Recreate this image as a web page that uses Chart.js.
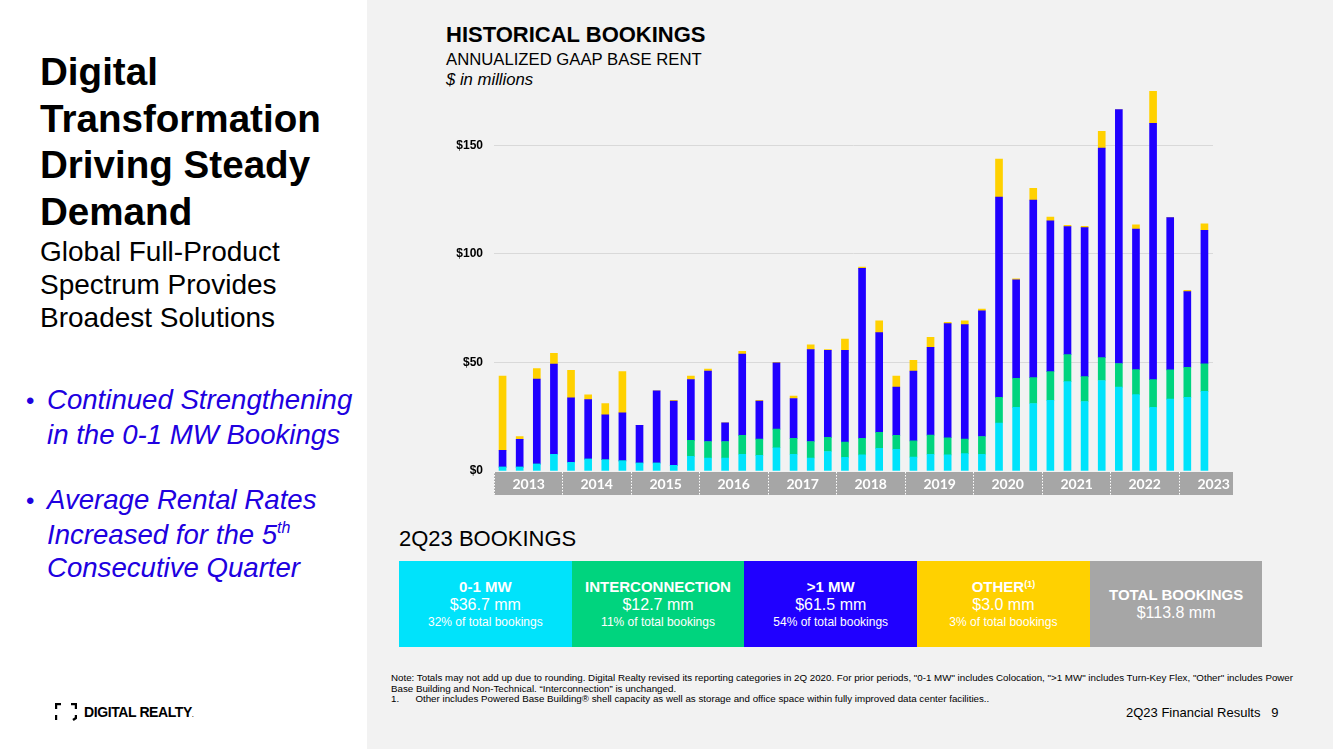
<!DOCTYPE html>
<html>
<head>
<meta charset="UTF-8">
<title>Historical Bookings</title>
<script src="https://cdn.jsdelivr.net/npm/chart.js@4.4.0/dist/chart.umd.min.js"></script>
<style>
    body { margin: 0; width: 1333px; height: 749px; position: relative; overflow: hidden; background: #fff; font-family: "Liberation Sans", Arial, sans-serif; color: #000; }
    #right { position: absolute; left: 367px; top: 0; width: 966px; height: 749px; background: #f2f2f2; }
    .abs { position: absolute; white-space: nowrap; }
    #title { left: 40px; top: 49.3px; font-size: 38.6px; line-height: 46.5px; font-weight: bold; }
    #subtitle { left: 40px; top: 234.5px; font-size: 28px; line-height: 33px; }
    .bullet { left: 26px; font-size: 27.6px; line-height: 33.7px; font-style: italic; color: #2000e0; }
    .bullet span.b { display: inline-block; width: 21px; font-style: normal; font-size: 24px; }
    .bullet .ind { padding-left: 21px; }
    .bullet sup { font-size: 16px; line-height: 0; vertical-align: 11px; }
    #logo { left: 55px; top: 703px; font-size: 14px; font-weight: bold; letter-spacing: -0.4px; }
    #chartTitle { left: 446px; top: 23px; font-size: 22px; font-weight: bold; line-height: 24px; }
    #chartSub { left: 446px; top: 49.7px; font-size: 16.7px; line-height: 19px; }
    #chartUnit { left: 446px; top: 69.7px; font-size: 16.7px; line-height: 19px; font-style: italic; }
    #bookTitle { left: 399px; top: 526px; font-size: 22px; line-height: 26px; }
    #boxes { position: absolute; left: 399px; top: 561px; height: 86px; display: flex; }
    .box { width: 172.7px; height: 86px; display: flex; flex-direction: column; justify-content: center; align-items: center; color: #fff; text-align: center; }
    .box .t { font-size: 15px; font-weight: bold; line-height: 18px; }
    .box .t sup { font-size: 9px; vertical-align: 5px; line-height: 0; }
    .box .v { font-size: 16px; line-height: 18px; }
    .box .s { font-size: 12px; line-height: 16px; }
    #note { left: 391px; top: 673px; font-family: "Liberation Sans Narrow", "Arial Narrow", sans-serif; font-size: 9.75px; line-height: 10.5px; }
    #footer { left: 1126px; top: 705px; font-size: 13px; }
    canvas { position: absolute; left: 380px; top: 62px; }
</style>
</head>
<body>
<div id="right"></div>

<div class="abs" id="title">Digital<br>Transformation<br>Driving Steady<br>Demand</div>
<div class="abs" id="subtitle">Global Full-Product<br>Spectrum Provides<br>Broadest Solutions</div>
<div class="abs bullet" style="top: 382.8px;"><span class="b">•</span>Continued Strengthening<br><span class="ind">in the 0-1 MW Bookings</span></div>
<div class="abs bullet" style="top: 482.8px;"><span class="b">•</span>Average Rental Rates<br><span class="ind">Increased for the 5<sup>th</sup></span><br><span class="ind">Consecutive Quarter</span></div>

<div class="abs" id="logo">
    <svg width="22" height="18" viewBox="0 0 22 18" style="vertical-align: middle; margin-right: 7px;">
        <path d="M1 6 V1 H6 M16 1 H21 V6 M1 12 V17 M21 12 V15 L18 17" stroke="#000" stroke-width="2.4" fill="none"/>
    </svg><span style="vertical-align: middle;">DIGITAL REALTY<span style="font-size: 6px;">.</span></span>
</div>

<div class="abs" id="chartTitle">HISTORICAL BOOKINGS</div>
<div class="abs" id="chartSub">ANNUALIZED GAAP BASE RENT</div>
<div class="abs" id="chartUnit">$ in millions</div>

<canvas id="chart" width="870" height="440"></canvas>

<div class="abs" id="bookTitle">2Q23 BOOKINGS</div>
<div id="boxes"></div>

<div class="abs" id="note">Note: Totals may not add up due to rounding. Digital Realty revised its reporting categories in 2Q 2020. For prior periods, "0-1 MW" includes Colocation, "&gt;1 MW" includes Turn-Key Flex, "Other" includes Power<br>Base Building and Non-Technical. “Interconnection” is unchanged.<br>1.&nbsp;&nbsp;&nbsp;&nbsp;&nbsp;&nbsp;Other includes Powered Base Building® shell capacity as well as storage and office space within fully improved data center facilities..</div>
<div class="abs" id="footer">2Q23 Financial Results&nbsp;&nbsp;&nbsp;9</div>

<script>
    // quarters shown on the x axis
    var quarters = ['1Q13', '2Q13', '3Q13', '4Q13', '1Q14', '2Q14', '3Q14', '4Q14',
        '1Q15', '2Q15', '3Q15', '4Q15', '1Q16', '2Q16', '3Q16', '4Q16',
        '1Q17', '2Q17', '3Q17', '4Q17', '1Q18', '2Q18', '3Q18', '4Q18',
        '1Q19', '2Q19', '3Q19', '4Q19', '1Q20', '2Q20', '3Q20', '4Q20',
        '1Q21', '2Q21', '3Q21', '4Q21', '1Q22', '2Q22', '3Q22', '4Q22',
        '1Q23', '2Q23'];

    // $ millions per quarter
    var colo = [1.8, 1.8, 3.2, 7.7, 4.0, 5.5, 5.2, 4.7,
        3.7, 3.7, 2.6, 6.7, 6.0, 6.0, 7.7, 7.2,
        10.7, 7.7, 6.0, 9.0, 6.3, 7.4, 10.4, 10.0,
        6.4, 7.7, 7.4, 8.0, 7.7, 22.1, 29.3, 31.1,
        32.5, 41.2, 32.0, 41.7, 38.6, 35.2, 29.3, 33.1,
        33.9, 36.7];
    var interconnection = [0, 0, 0, 0, 0, 0, 0, 0,
        0, 0, 0, 7.4, 7.6, 7.6, 8.7, 7.5,
        8.6, 7.3, 7.6, 6.5, 7.0, 7.6, 7.4, 6.4,
        7.5, 8.8, 7.9, 6.7, 8.2, 11.8, 13.4, 11.9,
        13.3, 12.4, 11.5, 10.5, 10.9, 11.5, 12.8, 13.5,
        13.9, 12.7];
    var overOneMw = [7.7, 12.8, 39.1, 41.5, 29.7, 27.4, 20.7, 22.1,
        17.3, 33.2, 29.6, 28.0, 32.4, 8.6, 37.4, 17.5,
        30.5, 18.4, 42.3, 40.1, 42.3, 78.3, 45.9, 22.2,
        32.1, 40.5, 52.6, 52.7, 57.9, 92.3, 45.4, 81.8,
        69.4, 59.0, 68.6, 96.5, 117.0, 64.7, 118.0, 70.1,
        34.8, 61.5];
    var other = [34.2, 1.3, 4.9, 5.0, 12.7, 2.2, 5.2, 19.0,
        0, 0, 0.3, 1.6, 0.9, 0, 1.3, 0.4,
        0.3, 1.1, 2.2, 0.3, 5.2, 0.6, 5.5, 5.1,
        5.0, 4.6, 0.6, 1.8, 0.8, 17.5, 0.4, 5.4,
        1.8, 0.6, 0.6, 7.7, 0, 2.0, 14.8, 0,
        0.6, 3.0];

    var yTicks = [0, 50, 100, 150];

    // 2Q23 summary boxes
    var boxNames = ['0-1 MW', 'INTERCONNECTION', '>1 MW', 'OTHER', 'TOTAL BOOKINGS'];
    var boxValues = ['$36.7 mm', '$12.7 mm', '$61.5 mm', '$3.0 mm', '$113.8 mm'];
    var boxShares = ['32% of total bookings', '11% of total bookings', '54% of total bookings', '3% of total bookings', ''];

    var colors = ['#00e3fb', '#00d47e', '#2000ff', '#ffd100', '#a6a6a6'];

    var boxesEl = document.getElementById('boxes');
    boxNames.forEach(function (name, i) {
        var d = document.createElement('div');
        d.className = 'box';
        d.style.background = colors[i];
        var t = document.createElement('div');
        t.className = 't';
        t.textContent = name;
        if (name === 'OTHER') {
            var s = document.createElement('sup');
            s.textContent = '(1)';
            t.appendChild(s);
        }
        d.appendChild(t);
        var v = document.createElement('div');
        v.className = 'v';
        v.textContent = boxValues[i];
        d.appendChild(v);
        if (boxShares[i]) {
            var p = document.createElement('div');
            p.className = 's';
            p.textContent = boxShares[i];
            d.appendChild(p);
        }
        boxesEl.appendChild(d);
    });

    // grey year band under the bars
    var yearBand = {
        id: 'yearBand',
        afterDraw: function (chart) {
            var x = chart.scales.x;
            var ctx = chart.ctx;
            var step = x.getPixelForValue(1) - x.getPixelForValue(0);
            var top = chart.chartArea.bottom + 1;
            var h = 23;
            var left = x.getPixelForValue(0) - step / 2;
            var right = x.getPixelForValue(quarters.length - 1) + step / 2 + 20;
            ctx.save();
            ctx.fillStyle = '#a6a6a6';
            ctx.fillRect(left, top, right - left, h);
            ctx.strokeStyle = '#ffffff';
            ctx.lineWidth = 1;
            ctx.setLineDash([1.5, 1.5]);
            ctx.fillStyle = '#ffffff';
            ctx.font = 'bold 14px Lato, "Open Sans", sans-serif';
            ctx.textAlign = 'center';
            ctx.textBaseline = 'middle';
            var lastYear = '';
            quarters.forEach(function (q, i) {
                var yr = '20' + q.slice(2);
                if (yr !== lastYear) {
                    var start = Math.round(x.getPixelForValue(i) - step / 2) + 0.5;
                    ctx.beginPath();
                    ctx.moveTo(start, top);
                    ctx.lineTo(start, top + h);
                    ctx.stroke();
                    ctx.fillText(yr, start + 2 * step, top + h / 2 + 1);
                    lastYear = yr;
                }
            });
            ctx.restore();
        }
    };

    Chart.defaults.font.family = '"Liberation Sans", Arial, sans-serif';

    var ctx = document.getElementById('chart').getContext('2d');
    var chart = new Chart(ctx, {
        type: 'bar',
        data: {
            labels: quarters,
            datasets: [
                { label: '0-1 MW', data: colo, backgroundColor: colors[0] },
                { label: 'Interconnection', data: interconnection, backgroundColor: colors[1] },
                { label: '>1 MW', data: overOneMw, backgroundColor: colors[2] },
                { label: 'Other', data: other, backgroundColor: colors[3] }
            ]
        },
        options: {
            responsive: false,
            animation: false,
            layout: { padding: { top: 2, right: 37, bottom: 31, left: 0 } },
            datasets: { bar: { barThickness: 7, borderWidth: 0 } },
            plugins: { legend: { display: false }, tooltip: { enabled: false } },
            scales: {
                x: { stacked: true, display: false },
                y: {
                    stacked: true,
                    min: 0,
                    max: 180,
                    border: { display: false },
                    afterBuildTicks: function (scale) {
                        scale.ticks = yTicks.map(function (v) { return { value: v }; });
                    },
                    afterFit: function (scale) { scale.width = 114; },
                    grid: {
                        drawTicks: false,
                        color: function (c) { return c.tick && c.tick.value === 0 ? 'rgba(0,0,0,0)' : '#d9d9d9'; }
                    },
                    ticks: {
                        padding: 11,
                        color: '#000',
                        font: { size: 12, weight: 'bold' },
                        callback: function (v) { return '$' + v; }
                    }
                }
            }
        },
        plugins: [yearBand]
    });
</script>
</body>
</html>
